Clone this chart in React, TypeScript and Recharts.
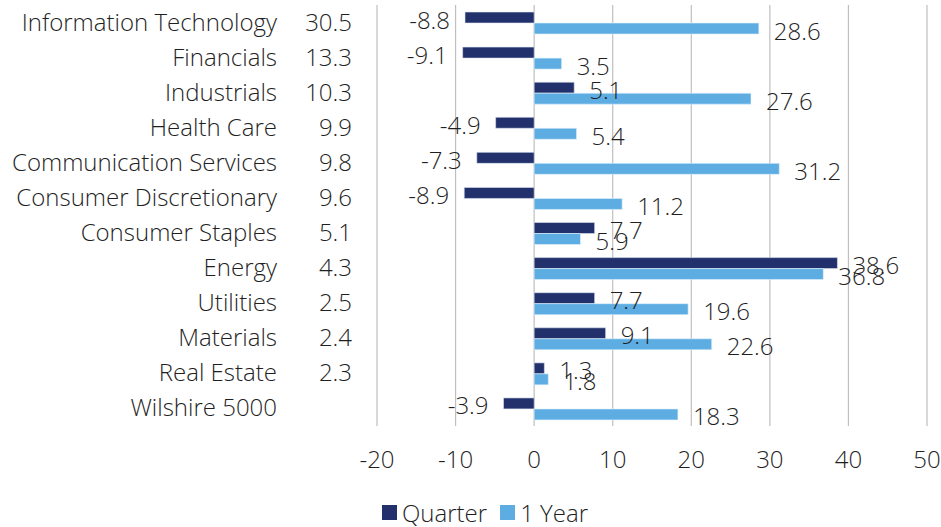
import React from "react";
import {
  BarChart,
  Bar,
  XAxis,
  YAxis,
  CartesianGrid,
  Legend,
  LabelList,
} from "recharts";

const sectors = [
  "Information Technology",
  "Financials",
  "Industrials",
  "Health Care",
  "Communication Services",
  "Consumer Discretionary",
  "Consumer Staples",
  "Energy",
  "Utilities",
  "Materials",
  "Real Estate",
  "Wilshire 5000",
];
const weights = ["30.5", "13.3", "10.3", "9.9", "9.8", "9.6", "5.1", "4.3", "2.5", "2.4", "2.3", ""];
const quarter = [-8.8, -9.1, 5.1, -4.9, -7.3, -8.9, 7.7, 38.6, 7.7, 9.1, 1.3, -3.9];
const oneYear = [28.6, 3.5, 27.6, 5.4, 31.2, 11.2, 5.9, 36.8, 19.6, 22.6, 1.8, 18.3];
const xTicks = [-20, -10, 0, 10, 20, 30, 40, 50];

const data = sectors.map((name, i) => ({
  name,
  weight: weights[i],
  quarter: quarter[i],
  oneYear: oneYear[i],
}));

const FONT = "'Open Sans', sans-serif";
const FS = 24;
const TEXT = "#1f1f1f";
const DARK = "#22316c";
const LIGHT = "#5dade2";
const Y_WIDTH = 377;

const SectorTick = (props: any) => {
  const { y, payload } = props;
  const idx = payload.index;
  return (
    <g>
      <text x={Y_WIDTH - 100} y={y} dy={8} textAnchor="end" fontSize={FS} fontWeight={300} fill={TEXT} fontFamily={FONT}>
        {payload.value}
      </text>
      <text x={Y_WIDTH - 25} y={y} dy={8} textAnchor="end" fontSize={FS} fontWeight={300} fill={TEXT} fontFamily={FONT}>
        {weights[idx]}
      </text>
    </g>
  );
};

const ValueTick = (props: any) => {
  const { x, y, payload } = props;
  return (
    <text x={x} y={y} dy={34} textAnchor="middle" fontSize={FS} fontWeight={300} fill={TEXT} fontFamily={FONT}>
      {payload.value}
    </text>
  );
};

// Excel style "outside end" labels
const barLabel = (props: any) => {
  const { x, y, width, height, value } = props;
  const left = Math.min(x, x + width);
  const right = Math.max(x, x + width);
  const cy = y + height / 2 + 2.5;
  const neg = value < 0;
  return (
    <text
      x={neg ? left - 15 : right + 15}
      y={cy}
      dy={8.5}
      textAnchor={neg ? "end" : "start"}
      fontSize={FS}
      fontWeight={300}
      fill={TEXT}
      fontFamily={FONT}
    >
      {value}
    </text>
  );
};

const LegendBox = () => (
  <div
    style={{
      display: "flex",
      alignItems: "center",
      height: 30,
      fontFamily: FONT,
      fontWeight: 300,
      fontSize: FS,
      color: TEXT,
      paddingLeft: 382,
      paddingTop: 2,
    }}
  >
    <span style={{ display: "inline-block", width: 15, height: 15, background: DARK, marginRight: 5 }} />
    <span style={{ marginRight: 13 }}>Quarter</span>
    <span style={{ display: "inline-block", width: 15, height: 15, background: LIGHT, marginRight: 5 }} />
    <span>1 Year</span>
  </div>
);

export default function App() {
  return (
    <div style={{ position: "absolute", left: 0, top: 0, width: 941, height: 527, background: "#fff" }}>
      <BarChart
        width={941}
        height={527}
        data={data}
        layout="vertical"
        margin={{ top: 5, right: 14, bottom: 0, left: 0 }}
        barCategoryGap="20%"
        barGap={0}
      >
        <CartesianGrid horizontal={false} stroke="#bfbfbf" strokeWidth={1.2} />
        <XAxis
          type="number"
          domain={[-20, 50]}
          ticks={xTicks}
          axisLine={false}
          tickLine={false}
          height={69}
          tick={<ValueTick />}
          interval={0}
        />
        <YAxis
          type="category"
          dataKey="name"
          width={Y_WIDTH}
          axisLine={false}
          tickLine={false}
          tick={<SectorTick />}
          interval={0}
        />
        <Legend verticalAlign="bottom" content={<LegendBox />} />
        <Bar dataKey="quarter" name="Quarter" fill={DARK} stroke="#dfe5f0" strokeWidth={0.6} isAnimationActive={false}>
          <LabelList dataKey="quarter" content={barLabel} />
        </Bar>
        <Bar dataKey="oneYear" name="1 Year" fill={LIGHT} stroke="#e4f2fb" strokeWidth={0.6} isAnimationActive={false}>
          <LabelList dataKey="oneYear" content={barLabel} />
        </Bar>
      </BarChart>
    </div>
  );
}
